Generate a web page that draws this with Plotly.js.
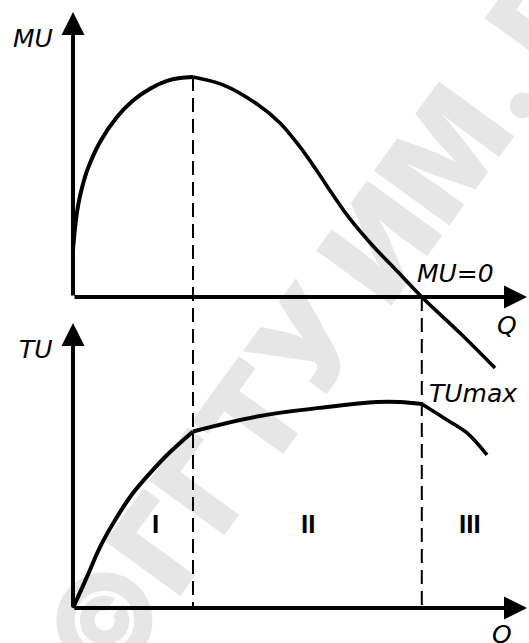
<!DOCTYPE html>
<html>
<head>
<meta charset="utf-8">
<script src="https://cdn.plot.ly/plotly-3.0.1.min.js"></script>
<style>
  html, body { margin: 0; padding: 0; background: #ffffff; }
  #chart { width: 529px; height: 643px; }
</style>
</head>
<body>
<div id="chart"></div>
<script>
// Quantity breakpoints: MU maximum (end of stage I) and MU = 0 / TU maximum (end of stage II)
const Q1 = 3.0;
const Q2 = 8.72;

// Marginal utility: rising branch up to the peak, then falling branch through zero
const muQRise = [0, 0.05, 0.1, 0.175, 0.35, 0.675, 1.1, 1.5, 1.925, 2.35, 2.675, 3.0];
const muRise  = [2.14, 3.14, 3.86, 4.59, 5.73, 7.05, 8.18, 8.93, 9.47, 9.82, 9.95, 10.0];
const muQFall = [3.0, 3.75, 4.6, 5.175, 5.675, 6.1, 6.5, 6.925, 7.5, 8.1, 8.72, 9.675, 10.55];
const muFall  = [10.0, 9.64, 8.77, 7.91, 6.82, 5.73, 4.64, 3.55, 2.32, 1.18, 0, -1.64, -3.23];

// Total utility, one piece per stage
const tuQ1 = [0, 0.35, 0.675, 1.1, 1.5, 1.925, 2.35, 3.0];
const tu1  = [0, 1.51, 2.96, 4.42, 5.58, 6.55, 7.43, 8.57];
const tuQ2 = [3.0, 4.675, 6.35, 7.6, 8.175, 8.72];
const tu2  = [8.57, 9.32, 9.76, 10.0, 10.0, 9.90];
const tuQ3 = [8.72, 9.35, 9.85, 10.35];
const tu3  = [9.90, 9.13, 8.50, 7.43];

// Axis labels and stage names
const muLabel = 'MU';
const tuLabel = 'TU';
const qLabel = 'Q';
const muZeroLabel = 'MU=0';
const tuMaxLabel = 'TUmax';
const stageNames = ['I', 'II', 'III'];
const stageQ = [2.06, 5.875, 9.925];
const watermark = '©ГГТУ ИМ. П.О.СУХОГО';

// Axis ranges: both panels share one Q axis; MU and TU axes overlay the full height
const qRange = [-1.825, 11.4];
const muRange = [-15.727, 13.5];
const tuRange = [-1.699, 29.515];
const muTop = 12.95;
const tuTop = 13.83;
const qEnd = 11.35;

const toPaper = (v, r) => (v - r[0]) / (r[1] - r[0]);

const ink = '#000000';
const curveLine = { color: ink, width: 4, shape: 'spline', smoothing: 1 };

const traces = [
  { x: muQRise, y: muRise, yaxis: 'y', mode: 'lines', line: curveLine, hoverinfo: 'skip' },
  { x: muQFall, y: muFall, yaxis: 'y', mode: 'lines', line: { ...curveLine, width: 3.6 }, hoverinfo: 'skip' },
  { x: tuQ1, y: tu1, yaxis: 'y2', mode: 'lines', line: curveLine, hoverinfo: 'skip' },
  { x: tuQ2, y: tu2, yaxis: 'y2', mode: 'lines', line: curveLine, hoverinfo: 'skip' },
  { x: tuQ3, y: tu3, yaxis: 'y2', mode: 'lines', line: { ...curveLine, width: 3.6 }, hoverinfo: 'skip' }
];

// Axis arrows drawn as annotation arrows from the origin to the tip
function axisArrow(x, y, ax, ay, yref) {
  return {
    x: x, y: y, ax: ax, ay: ay, xref: 'x', yref: yref, axref: 'x', ayref: yref,
    text: '', showarrow: true, arrowhead: 2, arrowsize: 1.15, arrowwidth: 4,
    arrowcolor: ink, standoff: 0, startstandoff: 0
  };
}

const italic = { family: 'DejaVu Sans', size: 25, color: ink, style: 'italic' };
const roman = { family: 'Liberation Sans', size: 26, color: ink, weight: 'bold' };

function label(text, x, y, yref, xanchor, font) {
  return { text: text, x: x, y: y, xref: 'x', yref: yref, xanchor: xanchor, yanchor: 'middle',
           showarrow: false, font: font };
}

const annotations = [
  axisArrow(0, muTop, 0, 0, 'y'),
  axisArrow(qEnd, 0, 0, 0, 'y'),
  axisArrow(0, tuTop, 0, 0, 'y2'),
  axisArrow(qEnd, 0, 0, 0, 'y2'),
  label(muLabel, -0.45, 11.75, 'y', 'right', italic),
  label(muZeroLabel, 8.55, 1.05, 'y', 'left', italic),
  label(qLabel, 10.85, -1.3, 'y', 'center', italic),
  label(tuLabel, -0.45, 12.55, 'y2', 'right', italic),
  label(tuMaxLabel, 8.85, 10.4, 'y2', 'left', italic),
  label(qLabel, 10.72, -1.3, 'y2', 'center', italic)
];
stageNames.forEach((s, i) => annotations.push(label(s, stageQ[i], 4.1, 'y2', 'center', roman)));

const dash = { color: ink, width: 2, dash: '14px,7px' };
const shapes = [
  // faint background stamp
  {
    type: 'rect', xref: 'paper', yref: 'paper', x0: 0.95, x1: 1.07, y0: 0.93, y1: 1.0,
    layer: 'below', line: { width: 0 }, fillcolor: 'rgba(0,0,0,0)',
    label: { text: watermark, textangle: -54, textposition: 'middle center',
             font: { family: 'Inter', size: 128, color: '#e6e6e6', weight: 900 } }
  },
  // stage boundaries running through both panels
  { type: 'line', xref: 'x', yref: 'paper', x0: Q1, x1: Q1,
    y0: toPaper(10.0, muRange), y1: toPaper(0, tuRange), line: dash },
  { type: 'line', xref: 'x', yref: 'paper', x0: Q2, x1: Q2,
    y0: toPaper(0, muRange), y1: toPaper(0, tuRange), line: dash }
];

const hidden = { visible: false, fixedrange: true };
const layout = {
  width: 529, height: 643,
  margin: { l: 0, r: 0, t: 0, b: 0, pad: 0 },
  paper_bgcolor: '#ffffff', plot_bgcolor: 'rgba(0,0,0,0)',
  showlegend: false,
  xaxis: { ...hidden, range: qRange },
  yaxis: { ...hidden, range: muRange, domain: [0, 1] },
  yaxis2: { ...hidden, range: tuRange, domain: [0, 1], overlaying: 'y' },
  annotations: annotations,
  shapes: shapes
};

Plotly.newPlot('chart', traces, layout, { displayModeBar: false, staticPlot: true });
</script>
</body>
</html>
